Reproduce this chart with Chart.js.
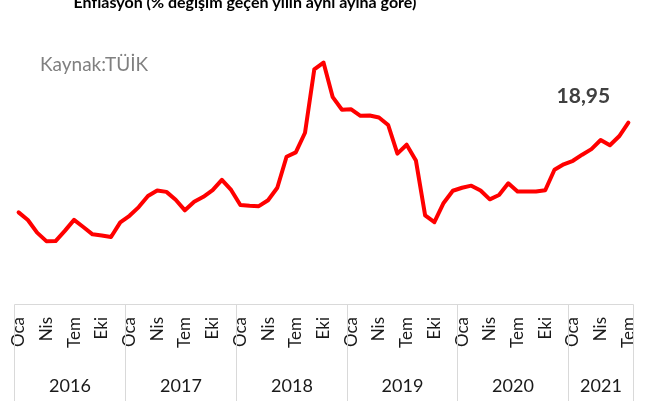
<!DOCTYPE html>
<html>
<head>
<meta charset="utf-8">
<script src="https://cdn.jsdelivr.net/npm/chart.js@4.4.0/dist/chart.umd.min.js"></script>
<style>
html, body { margin: 0; padding: 0; background: #fff; }
#wrap { width: 651px; height: 401px; }
</style>
</head>
<body>
<div id="wrap"><canvas id="chart" width="651" height="401"></canvas></div>
<script>
// yillar ve aylar
var years = ['2016', '2017', '2018', '2019', '2020', '2021'];
var months = ['Oca', 'Şub', 'Mar', 'Nis', 'May', 'Haz', 'Tem', 'Ağu', 'Eyl', 'Eki', 'Kas', 'Ara'];

// TÜFE yillik degisim (%)
var tufe2016 = [9.58, 8.78, 7.46, 6.57, 6.58, 7.64, 8.79, 8.05, 7.28, 7.16, 7.00, 8.53];
var tufe2017 = [9.22, 10.13, 11.29, 11.87, 11.72, 10.90, 9.79, 10.68, 11.20, 11.90, 12.98, 11.92];
var tufe2018 = [10.35, 10.26, 10.23, 10.85, 12.15, 15.39, 15.85, 17.90, 24.52, 25.24, 21.62, 20.30];
var tufe2019 = [20.35, 19.67, 19.71, 19.50, 18.71, 15.72, 16.65, 15.01, 9.26, 8.55, 10.56, 11.84];
var tufe2020 = [12.15, 12.37, 11.86, 10.94, 11.39, 12.62, 11.76, 11.77, 11.75, 11.89, 14.03, 14.60];
var tufe2021 = [14.97, 15.61, 16.19, 17.14, 16.59, 17.53, 18.95];

var series = [tufe2016, tufe2017, tufe2018, tufe2019, tufe2020, tufe2021];
var labels = [];
var values = [];
for (var y = 0; y < series.length; y++) {
    for (var m = 0; m < series[y].length; m++) {
        labels.push(months[m]);
        values.push(series[y][m]);
    }
}
var lastLabel = '18,95';

var fontName = 'Lato, "Open Sans", sans-serif';

var extras = {
    id: 'extras',
    afterDraw: function(chart) {
        var ctx = chart.ctx;
        var x = chart.scales.x;
        var area = chart.chartArea;
        var bw = x.getPixelForValue(1) - x.getPixelForValue(0);
        var bottom = chart.height;

        ctx.save();
        // eksen cizgisi ve yil ayraclari
        ctx.strokeStyle = '#d9d9d9';
        ctx.lineWidth = 1;
        ctx.beginPath();
        var left = Math.round(x.getPixelForValue(0) - bw / 2) + 0.5;
        var right = Math.round(x.getPixelForValue(values.length - 1) + bw / 2) + 0.5;
        var top = Math.round(area.bottom) + 0.5;
        ctx.moveTo(left, top);
        ctx.lineTo(right, top);
        ctx.stroke();

        var start = 0;
        ctx.fillStyle = '#1a1a1a';
        ctx.font = '18px ' + fontName;
        ctx.textAlign = 'center';
        ctx.textBaseline = 'middle';
        for (var i = 0; i < series.length; i++) {
            var end = start + series[i].length;
            var gx1 = Math.round(x.getPixelForValue(start) - bw / 2) + 0.5;
            var gx2 = Math.round(x.getPixelForValue(end - 1) + bw / 2) + 0.5;
            ctx.beginPath();
            ctx.moveTo(gx1, top);
            ctx.lineTo(gx1, bottom);
            ctx.stroke();
            if (i == series.length - 1) {
                ctx.beginPath();
                ctx.moveTo(gx2, top);
                ctx.lineTo(gx2, bottom);
                ctx.stroke();
            }
            ctx.fillText(years[i], (gx1 + gx2) / 2, 386);
            start = end;
        }

        // baslik (ustten kesik)
        ctx.fillStyle = '#000';
        ctx.font = 'bold 16px ' + fontName;
        ctx.textBaseline = 'alphabetic';
        ctx.fillText('Enflasyon (% değişim geçen yılın aynı ayına göre)', 245, 8);

        // kaynak
        ctx.fillStyle = '#808080';
        ctx.font = '19px ' + fontName;
        ctx.textAlign = 'left';
        ctx.textBaseline = 'middle';
        ctx.fillText('Kaynak:TÜİK', 40, 65);

        // son deger
        var meta = chart.getDatasetMeta(0);
        var p = meta.data[meta.data.length - 1];
        ctx.fillStyle = '#404040';
        ctx.font = 'bold 21px ' + fontName;
        ctx.textAlign = 'center';
        ctx.fillText(lastLabel, p.x - 45, p.y - 26);
        ctx.restore();
    }
};

var tufe_chart = new Chart(document.getElementById('chart'), {
    type: 'line',
    data: {
        labels: labels,
        datasets: [{
            label: 'TÜFE',
            data: values,
            borderColor: '#ff0000',
            borderWidth: 4,
            pointRadius: 0,
            tension: 0,
            borderJoinStyle: 'round',
            borderCapStyle: 'round',
            clip: false
        }]
    },
    options: {
        responsive: false,
        animation: false,
        devicePixelRatio: 1,
        layout: { padding: { left: 14, right: 18, top: 17, bottom: 0 } },
        plugins: {
            legend: { display: false },
            tooltip: { enabled: false }
        },
        scales: {
            x: {
                type: 'category',
                offset: true,
                grid: { display: false, drawTicks: false },
                border: { display: false },
                ticks: {
                    autoSkip: false,
                    maxRotation: 90,
                    minRotation: 90,
                    padding: 13,
                    color: '#1a1a1a',
                    font: { family: fontName, size: 17 },
                    callback: function(val, idx) {
                        return idx % 3 == 0 ? labels[idx] : '';
                    }
                },
                afterFit: function(scale) {
                    scale.height = 97;
                    scale.paddingLeft = 0;
                    scale.paddingRight = 0;
                }
            },
            y: {
                display: false,
                min: 0,
                max: 30
            }
        }
    },
    plugins: [extras]
});
</script>
</body>
</html>
